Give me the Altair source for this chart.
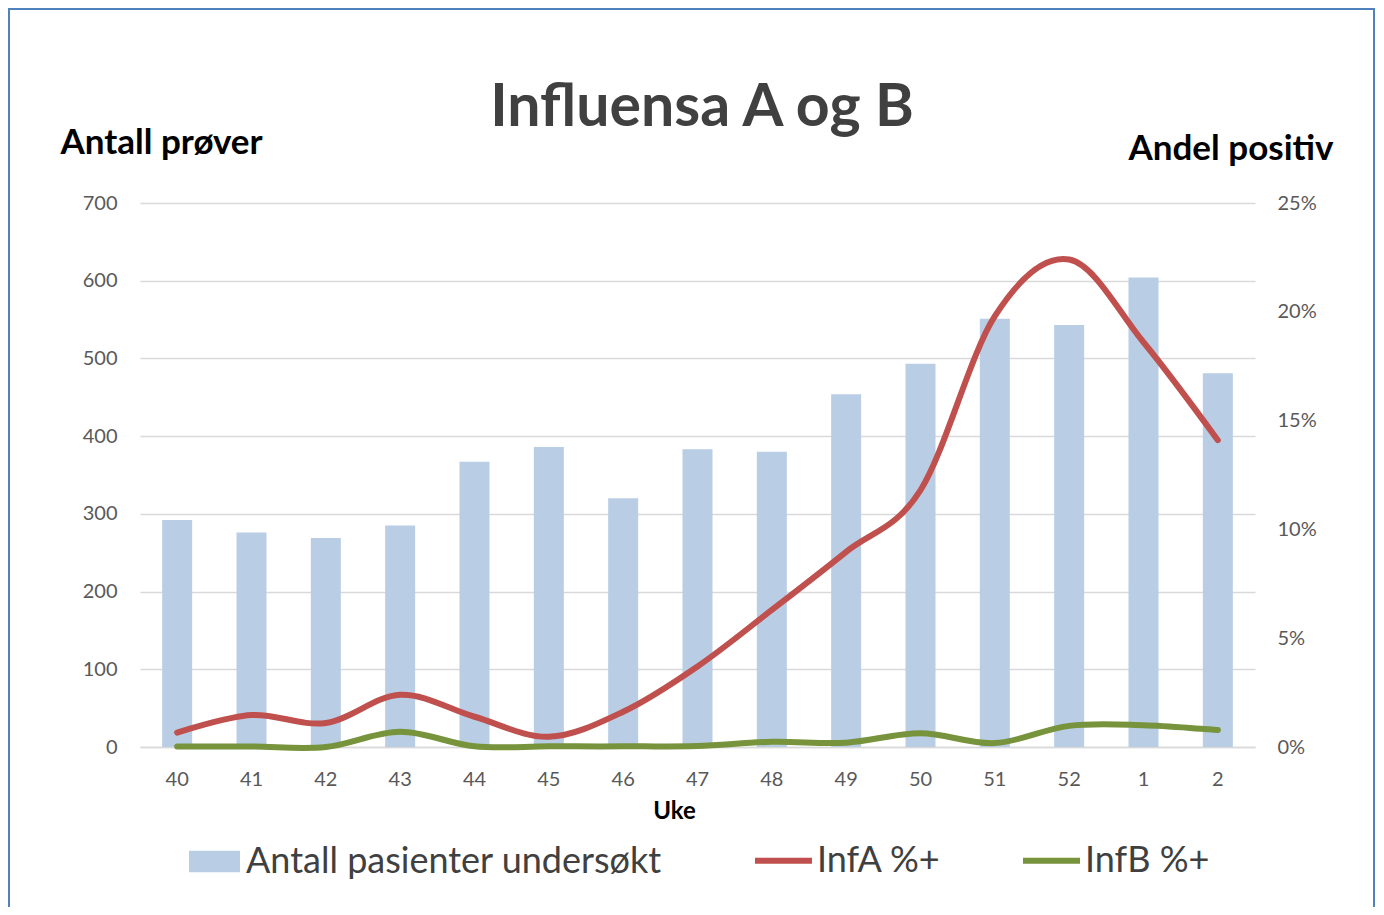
import altair as alt
import pandas as pd

# ---- data ----
weeks = ["40", "41", "42", "43", "44", "45", "46", "47", "48", "49", "50", "51", "52", "1", "2"]
antall = [292, 276, 269, 285, 367, 386, 320, 383, 380, 454, 493, 551, 543, 604, 481]
infA = [0.66, 1.47, 1.10, 2.40, 1.39, 0.47, 1.62, 3.70, 6.30, 8.97, 11.8, 19.8, 22.4, 18.6, 14.1]
infB = [0.02, 0.02, 0.00, 0.70, 0.03, 0.03, 0.03, 0.05, 0.24, 0.20, 0.63, 0.18, 0.97, 1.00, 0.78]

bar_series = "Antall pasienter undersøkt"
line_series = ["InfA %+", "InfB %+"]
title_text = "Influensa A og B"
left_title = "Antall prøver"
right_title = "Andel positiv"
x_title = "Uke"
left_ticks = [0, 100, 200, 300, 400, 500, 600, 700]
right_ticks = [0, 0.05, 0.10, 0.15, 0.20, 0.25]

FONT = "Lato"

df_bar = pd.DataFrame({"uke": weeks, "antall": antall, "serie": bar_series})
rows = []
for name, vals in zip(line_series, [infA, infB]):
    for w, v in zip(weeks, vals):
        rows.append({"uke": w, "andel": v / 100.0, "serie": name})
df_line = pd.DataFrame(rows)

x_axis = alt.Axis(
    title=x_title, labelAngle=0, ticks=False, domain=True, domainColor="#D9D9D9",
    domainWidth=1.3, labelFont=FONT, labelFontSize=20, labelColor="#595959",
    labelPadding=22, titleFont=FONT, titleFontSize=24, titleFontWeight="bold",
    titleColor="#000000", titleX=534, titleY=71, titleBaseline="alphabetic",
    titleAlign="center", grid=False,
)
x_enc = alt.X("uke:N", sort=weeks, scale=alt.Scale(paddingInner=0, paddingOuter=0), axis=x_axis)

bars = alt.Chart(df_bar).mark_bar(size=30).encode(
    x=x_enc,
    y=alt.Y(
        "antall:Q",
        scale=alt.Scale(domain=[0, 700], nice=False),
        axis=alt.Axis(
            values=left_ticks, grid=True, gridColor="#D9D9D9", gridWidth=1.3,
            domain=False, ticks=False, labelFont=FONT, labelFontSize=20,
            labelColor="#595959", labelPadding=23, title=left_title, titleAngle=0,
            titleX=-80, titleY=-50, titleAlign="left", titleBaseline="alphabetic",
            titleFont=FONT, titleFontSize=35, titleFontWeight="bold", titleColor="#000000",
        ),
    ),
    fill=alt.Fill(
        "serie:N",
        scale=alt.Scale(domain=[bar_series], range=["#B9CDE5"]),
        legend=alt.Legend(
            title=None, orient="none", legendX=49, legendY=633, padding=0,
            symbolType="M-1,-0.42H1V0.42H-1Z", symbolSize=2601, symbolStrokeWidth=0,
            symbolOpacity=1, labelFont=FONT, labelFontSize=36, labelColor="#404040",
            labelOffset=6, labelLimit=800,
        ),
    ),
)

lines = alt.Chart(df_line).mark_line(
    strokeWidth=6, strokeCap="round", interpolate="cardinal"
).encode(
    x=x_enc,
    y=alt.Y(
        "andel:Q",
        scale=alt.Scale(domain=[0, 0.25], nice=False),
        axis=alt.Axis(
            orient="right", values=right_ticks, format=".0%", grid=False,
            domain=False, ticks=False, labelFont=FONT, labelFontSize=20,
            labelColor="#595959", labelPadding=22, title=right_title, titleAngle=0,
            titleX=-127, titleY=-44, titleAlign="left", titleBaseline="alphabetic",
            titleFont=FONT, titleFontSize=35, titleFontWeight="bold", titleColor="#000000",
        ),
    ),
    stroke=alt.Stroke(
        "serie:N",
        scale=alt.Scale(domain=line_series, range=["#C0504D", "#77933C"]),
        legend=alt.Legend(
            title=None, orient="none", legendX=612, legendY=626, padding=0,
            direction="horizontal", columnPadding=70, symbolType="stroke",
            symbolSize=3249, symbolStrokeWidth=6, labelFont=FONT, labelFontSize=36,
            labelColor="#404040", labelOffset=2, labelLimit=800,
        ),
    ),
)

title = alt.Chart(alt.Data(values=[{"t": title_text}])).mark_text(
    font=FONT, fontSize=59, fontWeight="bold", color="#404040",
    align="center", baseline="alphabetic",
).encode(text="t:N", x=alt.value(562), y=alt.value(-77))

border = alt.Chart(alt.Data(values=[{"b": 1}])).mark_rect(
    fill="white", fillOpacity=0, stroke="#4F81BD", strokeWidth=2,
).encode(x=alt.value(-131), x2=alt.value(1234), y=alt.value(-194), y2=alt.value(800))

chart = (
    alt.layer(bars, lines, title, border)
    .resolve_scale(y="independent", fill="independent", stroke="independent")
    .properties(
        width=1115, height=544,
        autosize=alt.AutoSizeParams(type="none"),
        padding={"left": 132, "top": 195, "right": 121, "bottom": 160},
        background="white",
    )
    .configure_view(stroke=None)
)

chart.save("out.html", embed_options={"renderer": "svg", "actions": False})
